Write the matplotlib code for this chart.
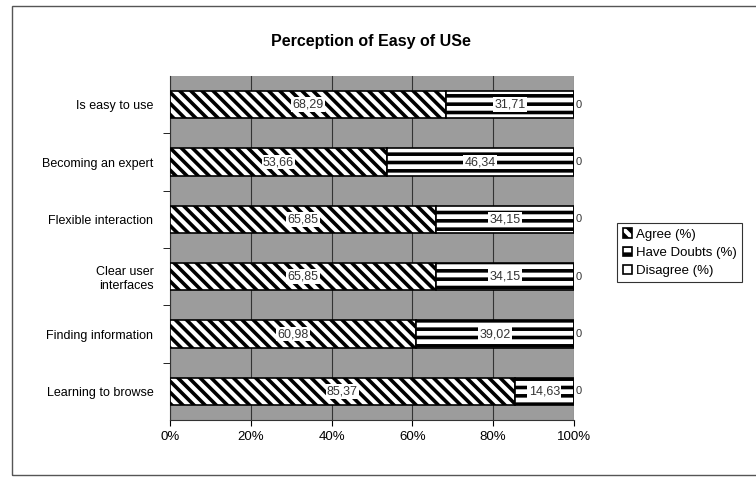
import matplotlib
matplotlib.use("Agg")
import matplotlib.pyplot as plt
from matplotlib.patches import Rectangle

categories = ["Is easy to use", "Becoming an expert", "Flexible interaction",
              "Clear user\ninterfaces", "Finding information", "Learning to browse"]
agree = [68.29, 53.66, 65.85, 65.85, 60.98, 85.37]
doubts = [31.71, 46.34, 34.15, 34.15, 39.02, 14.63]
disagree = [0, 0, 0, 0, 0, 0]
xticks = [0, 20, 40, 60, 80, 100]

plt.rcParams["font.family"] = ["Liberation Sans", "DejaVu Sans"]
plt.rcParams["hatch.linewidth"] = 2.6

fig = plt.figure(figsize=(7.56, 4.84), dpi=100)
fig.patch.set_facecolor("white")
fig.add_artist(Rectangle((12 / 756, 9 / 484), 1.0, 0.97, transform=fig.transFigure,
                         fill=False, edgecolor="#555555", linewidth=1))

ax = fig.add_axes([0.225, 0.132, 0.534, 0.711])
ax.set_facecolor("#9c9c9c")
y = list(range(len(categories)))[::-1]
h = 0.48

b1 = ax.barh(y, agree, height=h, color="white", edgecolor="black",
             hatch="\\\\\\", linewidth=1.2, label="Agree (%)", zorder=3)
b2 = ax.barh(y, doubts, left=agree, height=h, color="white", edgecolor="black",
             hatch="--", linewidth=1.2, label="Have Doubts (%)", zorder=3)
left3 = [a + d for a, d in zip(agree, doubts)]
b3 = ax.barh(y, disagree, left=left3, height=h, color="white", edgecolor="black",
             linewidth=1.2, label="Disagree (%)", zorder=3)

box = dict(boxstyle="square,pad=0.1", facecolor="white", edgecolor="none")
for yi, a, d, l3, z in zip(y, agree, doubts, left3, disagree):
    ax.text(a / 2, yi, f"{a:.2f}".replace(".", ","), ha="center", va="center",
            fontsize=9, color="#333333", bbox=box, zorder=4)
    ax.text(a + d / 2, yi, f"{d:.2f}".replace(".", ","), ha="center", va="center",
            fontsize=9, color="#333333", bbox=box, zorder=4)
    ax.text(l3 + 0.4, yi, f"{z}", ha="left", va="center", fontsize=8,
            color="#333333", zorder=4)

ax.set_xlim(0, 100)
ax.set_ylim(-0.5, len(categories) - 0.5)
ax.set_xticks(xticks)
ax.set_xticklabels([f"{t}%" for t in xticks], fontsize=9.5)
ax.set_yticks(y)
ax.set_yticklabels(categories, fontsize=9)
ax.set_yticks([v + 0.5 for v in range(len(categories) - 1)], minor=True)
ax.tick_params(axis="y", which="major", length=0, pad=12)
ax.tick_params(axis="y", which="minor", length=5)
ax.tick_params(axis="x", length=4)
ax.grid(axis="x", color="#333333", linewidth=0.8, zorder=0)
for s in ["top", "right"]:
    ax.spines[s].set_visible(False)
ax.spines["left"].set_color("#333333")
ax.spines["bottom"].set_color("#333333")

fig.text(0.49, 0.915, "Perception of Easy of USe", ha="center", va="center",
         fontsize=11.5, fontweight="bold")

leg = fig.legend(handles=[b1, b2, b3], loc="center left",
                 bbox_to_anchor=(0.808, 0.478), fontsize=9.5, frameon=True,
                 fancybox=False, edgecolor="black", handlelength=0.7,
                 handleheight=0.7, handletextpad=0.3, borderpad=0.4,
                 labelspacing=0.45)
leg.get_frame().set_linewidth(0.8)

fig.savefig("out.png", dpi=100)
